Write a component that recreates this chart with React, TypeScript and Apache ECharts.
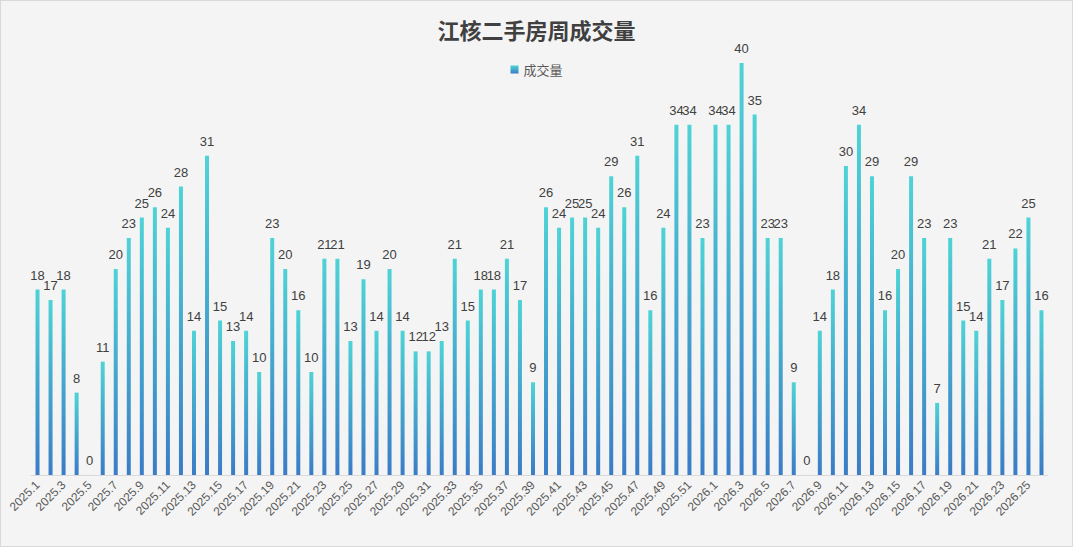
import { useEffect, useRef } from "react";
import * as echarts from "echarts";

const weeks2025 = Array.from({ length: 52 }, (_, i) => `2025.${i + 1}`);
const weeks2026 = Array.from({ length: 26 }, (_, i) => `2026.${i + 1}`);
const categories = [...weeks2025, ...weeks2026];

const volume = [
  18, 17, 18, 8, 0, 11, 20, 23, 25, 26,
  24, 28, 14, 31, 15, 13, 14, 10, 23, 20,
  16, 10, 21, 21, 13, 19, 14, 20, 14, 12,
  12, 13, 21, 15, 18, 18, 21, 17, 9, 26,
  24, 25, 25, 24, 29, 26, 31, 16, 24, 34,
  34, 23,
  34, 34, 40, 35, 23, 23, 9, 0, 14, 18,
  30, 34, 29, 16, 20, 29, 23, 7, 23, 15,
  14, 21, 17, 22, 25, 16,
];

export default function App() {
  const ref = useRef<HTMLDivElement>(null);
  useEffect(() => {
    document.body.style.margin = "0";
    if (!ref.current) return;
    const chart = echarts.init(ref.current, undefined, { renderer: "svg" });
    const grad = new echarts.graphic.LinearGradient(0, 0, 0, 1, [
      { offset: 0, color: "#4ed3d6" },
      { offset: 1, color: "#3a7cc6" },
    ]);
    chart.setOption({
      animation: false,
      backgroundColor: "#f4f4f4",
      title: {
        text: "江核二手房周成交量",
        left: "center",
        top: 12,
        textStyle: { fontSize: 22, fontWeight: "bold", color: "#404040", fontFamily: "Noto Sans CJK SC" },
      },
      legend: {
        top: 57,
        left: "center",
        itemWidth: 8,
        itemHeight: 8,
        data: [{ name: "成交量", icon: "rect" }],
        textStyle: { fontSize: 13, color: "#595959", fontFamily: "Noto Sans CJK SC" },
      },
      grid: { left: 30, right: 24, top: 62, bottom: 71 },
      xAxis: {
        type: "category",
        data: categories,
        axisTick: { show: false },
        axisLine: { lineStyle: { color: "#d9d9d9" } },
        axisLabel: { interval: 1, rotate: 45, fontSize: 12, color: "#595959", fontFamily: "Liberation Sans" },
      },
      yAxis: { type: "value", min: 0, max: 40, show: false, splitLine: { show: false } },
      series: [
        {
          name: "成交量",
          type: "bar",
          data: volume,
          barWidth: 4,
          itemStyle: { color: grad },
          label: {
            show: true,
            position: "top",
            distance: 8,
            fontSize: 13,
            color: "#404040",
            fontFamily: "Liberation Sans",
          },
        },
      ],
    });
    return () => chart.dispose();
  }, []);
  return <div ref={ref} style={{ width: 1073, height: 547, border: "1px solid #d9d9d9", boxSizing: "border-box" }} />;
}
